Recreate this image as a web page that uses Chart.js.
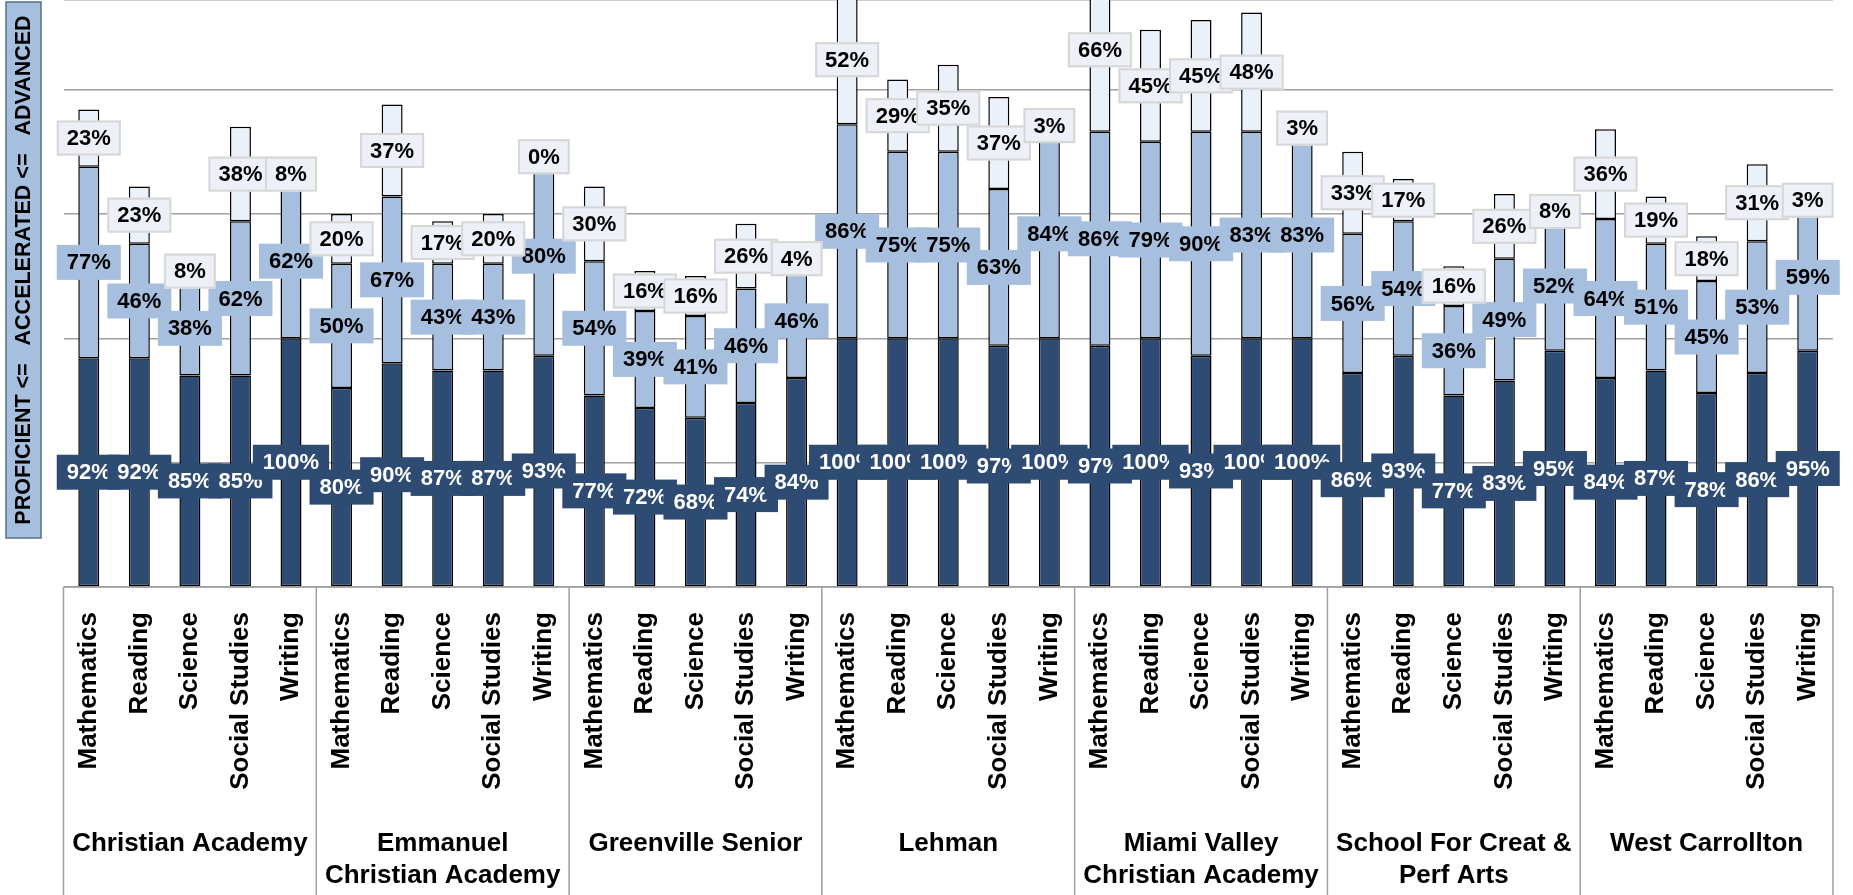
<!DOCTYPE html>
<html><head><meta charset="utf-8">
<script src="https://cdn.jsdelivr.net/npm/chart.js@4"></script>
<style>html,body{margin:0;padding:0;background:#fff}canvas{display:block}</style>
</head><body>
<canvas id="c" width="1853" height="895"></canvas>
<script>
const schools = [["Christian Academy"],["Emmanuel","Christian Academy"],["Greenville Senior"],["Lehman"],["Miami Valley","Christian Academy"],["School For Creat &","Perf Arts"],["West Carrollton"]];
const subjects = ["Mathematics","Reading","Science","Social Studies","Writing"];
const proficient = [92,92,85,85,100, 80,90,87,87,93, 77,72,68,74,84, 100,100,100,97,100, 97,100,93,100,100, 86,93,77,83,95, 84,87,78,86,95];
const accelerated = [77,46,38,62,62, 50,67,43,43,80, 54,39,41,46,46, 86,75,75,63,84, 86,79,90,83,83, 56,54,36,49,52, 64,51,45,53,59];
const advanced = [23,23,8,38,8, 20,37,17,20,0, 30,16,16,26,4, 52,29,35,37,3, 66,45,45,48,3, 33,17,16,26,8, 36,19,18,31,3];
const yTitle = "PROFICIENT <=   ACCELERATED <=   ADVANCED";

const DARK = '#2E4C73', MID = '#A7BFDE', LIGHT = '#EBF1F9';
const FONT = '"Liberation Sans", Arial, sans-serif';
const labels = [];
schools.forEach(s => subjects.forEach(sub => labels.push(sub)));

const deco = {
  id: 'deco',
  beforeDraw(chart) {
    const ctx = chart.ctx;
    ctx.save();
    ctx.fillStyle = '#fff';
    ctx.fillRect(0, 0, chart.width, chart.height);
    // y title box
    ctx.fillStyle = MID;
    ctx.fillRect(6, 2, 35, 536);
    ctx.strokeStyle = '#52708F';
    ctx.lineWidth = 1.5;
    ctx.strokeRect(6, 2, 35, 536);
    ctx.translate(24, 270);
    ctx.rotate(-Math.PI / 2);
    ctx.fillStyle = '#000';
    ctx.font = 'bold 21.5px ' + FONT;
    ctx.textAlign = 'center';
    ctx.textBaseline = 'middle';
    ctx.fillText(yTitle, 0, 0);
    ctx.restore();
  },
  afterDraw(chart) {
    const ctx = chart.ctx, xs = chart.scales.x, area = chart.chartArea;
    const step = (area.right - area.left) / labels.length;
    ctx.save();
    ctx.strokeStyle = '#A0A0A0';
    ctx.lineWidth = 1.5;
    ctx.beginPath();
    ctx.moveTo(area.left, area.bottom);
    ctx.lineTo(area.right, area.bottom);
    for (let k = 0; k <= schools.length; k++) {
      const x = area.left + k * subjects.length * step;
      ctx.moveTo(x, area.bottom);
      ctx.lineTo(x, chart.height);
    }
    ctx.stroke();
    // subject labels
    ctx.fillStyle = '#000';
    ctx.font = 'bold 26px ' + FONT;
    labels.forEach((lab, i) => {
      const x = xs.getPixelForValue(i);
      ctx.save();
      ctx.translate(x, area.bottom + 25);
      ctx.rotate(-Math.PI / 2);
      ctx.textAlign = 'right';
      ctx.textBaseline = 'middle';
      ctx.fillText(lab, 0, 0);
      ctx.restore();
    });
    // school labels
    ctx.font = 'bold 26px ' + FONT;
    ctx.textAlign = 'center';
    ctx.textBaseline = 'middle';
    schools.forEach((lines, k) => {
      const x = area.left + (k + 0.5) * subjects.length * step;
      lines.forEach((ln, j) => ctx.fillText(ln, x, 844 + j * 32));
    });
    ctx.restore();
  },
  afterDatasetsDraw(chart) {
    const ctx = chart.ctx;
    const st = [
      {bg: DARK, fg: '#fff', bd: null},
      {bg: MID, fg: '#000', bd: null},
      {bg: '#EDF1F7', fg: '#000', bd: '#D6D6D6'}
    ];
    ctx.save();
    ctx.font = 'bold 22px ' + FONT;
    ctx.textAlign = 'center';
    ctx.textBaseline = 'middle';
    chart.data.datasets.forEach((ds, di) => {
      const meta = chart.getDatasetMeta(di);
      meta.data.forEach((bar, i) => {
        const txt = ds.data[i] + '%';
        const yc = (bar.y + bar.base) / 2;
        const w = ctx.measureText(txt).width + 20, h = 35;
        const x0 = bar.x - w / 2, y0 = yc - h / 2;
        ctx.fillStyle = st[di].bg;
        ctx.fillRect(x0, y0, w, h);
        if (st[di].bd) {
          ctx.strokeStyle = st[di].bd;
          ctx.lineWidth = 2;
          ctx.strokeRect(x0 + 1, y0 + 1, w - 2, h - 2);
        }
        ctx.fillStyle = st[di].fg;
        ctx.fillText(txt, bar.x, yc + 1);
      });
    });
    ctx.restore();
  }
};

const common = {borderColor: '#000', borderWidth: 1.5, borderSkipped: false, barPercentage: 0.415, categoryPercentage: 1};
new Chart(document.getElementById('c'), {
  type: 'bar',
  data: {
    labels: labels,
    datasets: [
      Object.assign({label: 'Proficient', data: proficient, backgroundColor: DARK}, common),
      Object.assign({label: 'Accelerated', data: accelerated, backgroundColor: MID}, common),
      Object.assign({label: 'Advanced', data: advanced, backgroundColor: LIGHT}, common)
    ]
  },
  options: {
    responsive: false,
    animation: false,
    devicePixelRatio: 1,
    layout: {padding: {left: 63.5, right: 20, top: 0, bottom: 308}},
    plugins: {legend: {display: false}, tooltip: {enabled: false}},
    scales: {
      x: {stacked: true, display: false},
      y: {
        stacked: true, min: 0, max: 236,
        ticks: {display: false, stepSize: 50},
        grid: {color: '#A0A0A0', lineWidth: 1.5, drawTicks: false},
        border: {display: false},
        afterFit: s => { s.width = 0; }
      }
    }
  },
  plugins: [deco]
});
</script>
</body></html>
